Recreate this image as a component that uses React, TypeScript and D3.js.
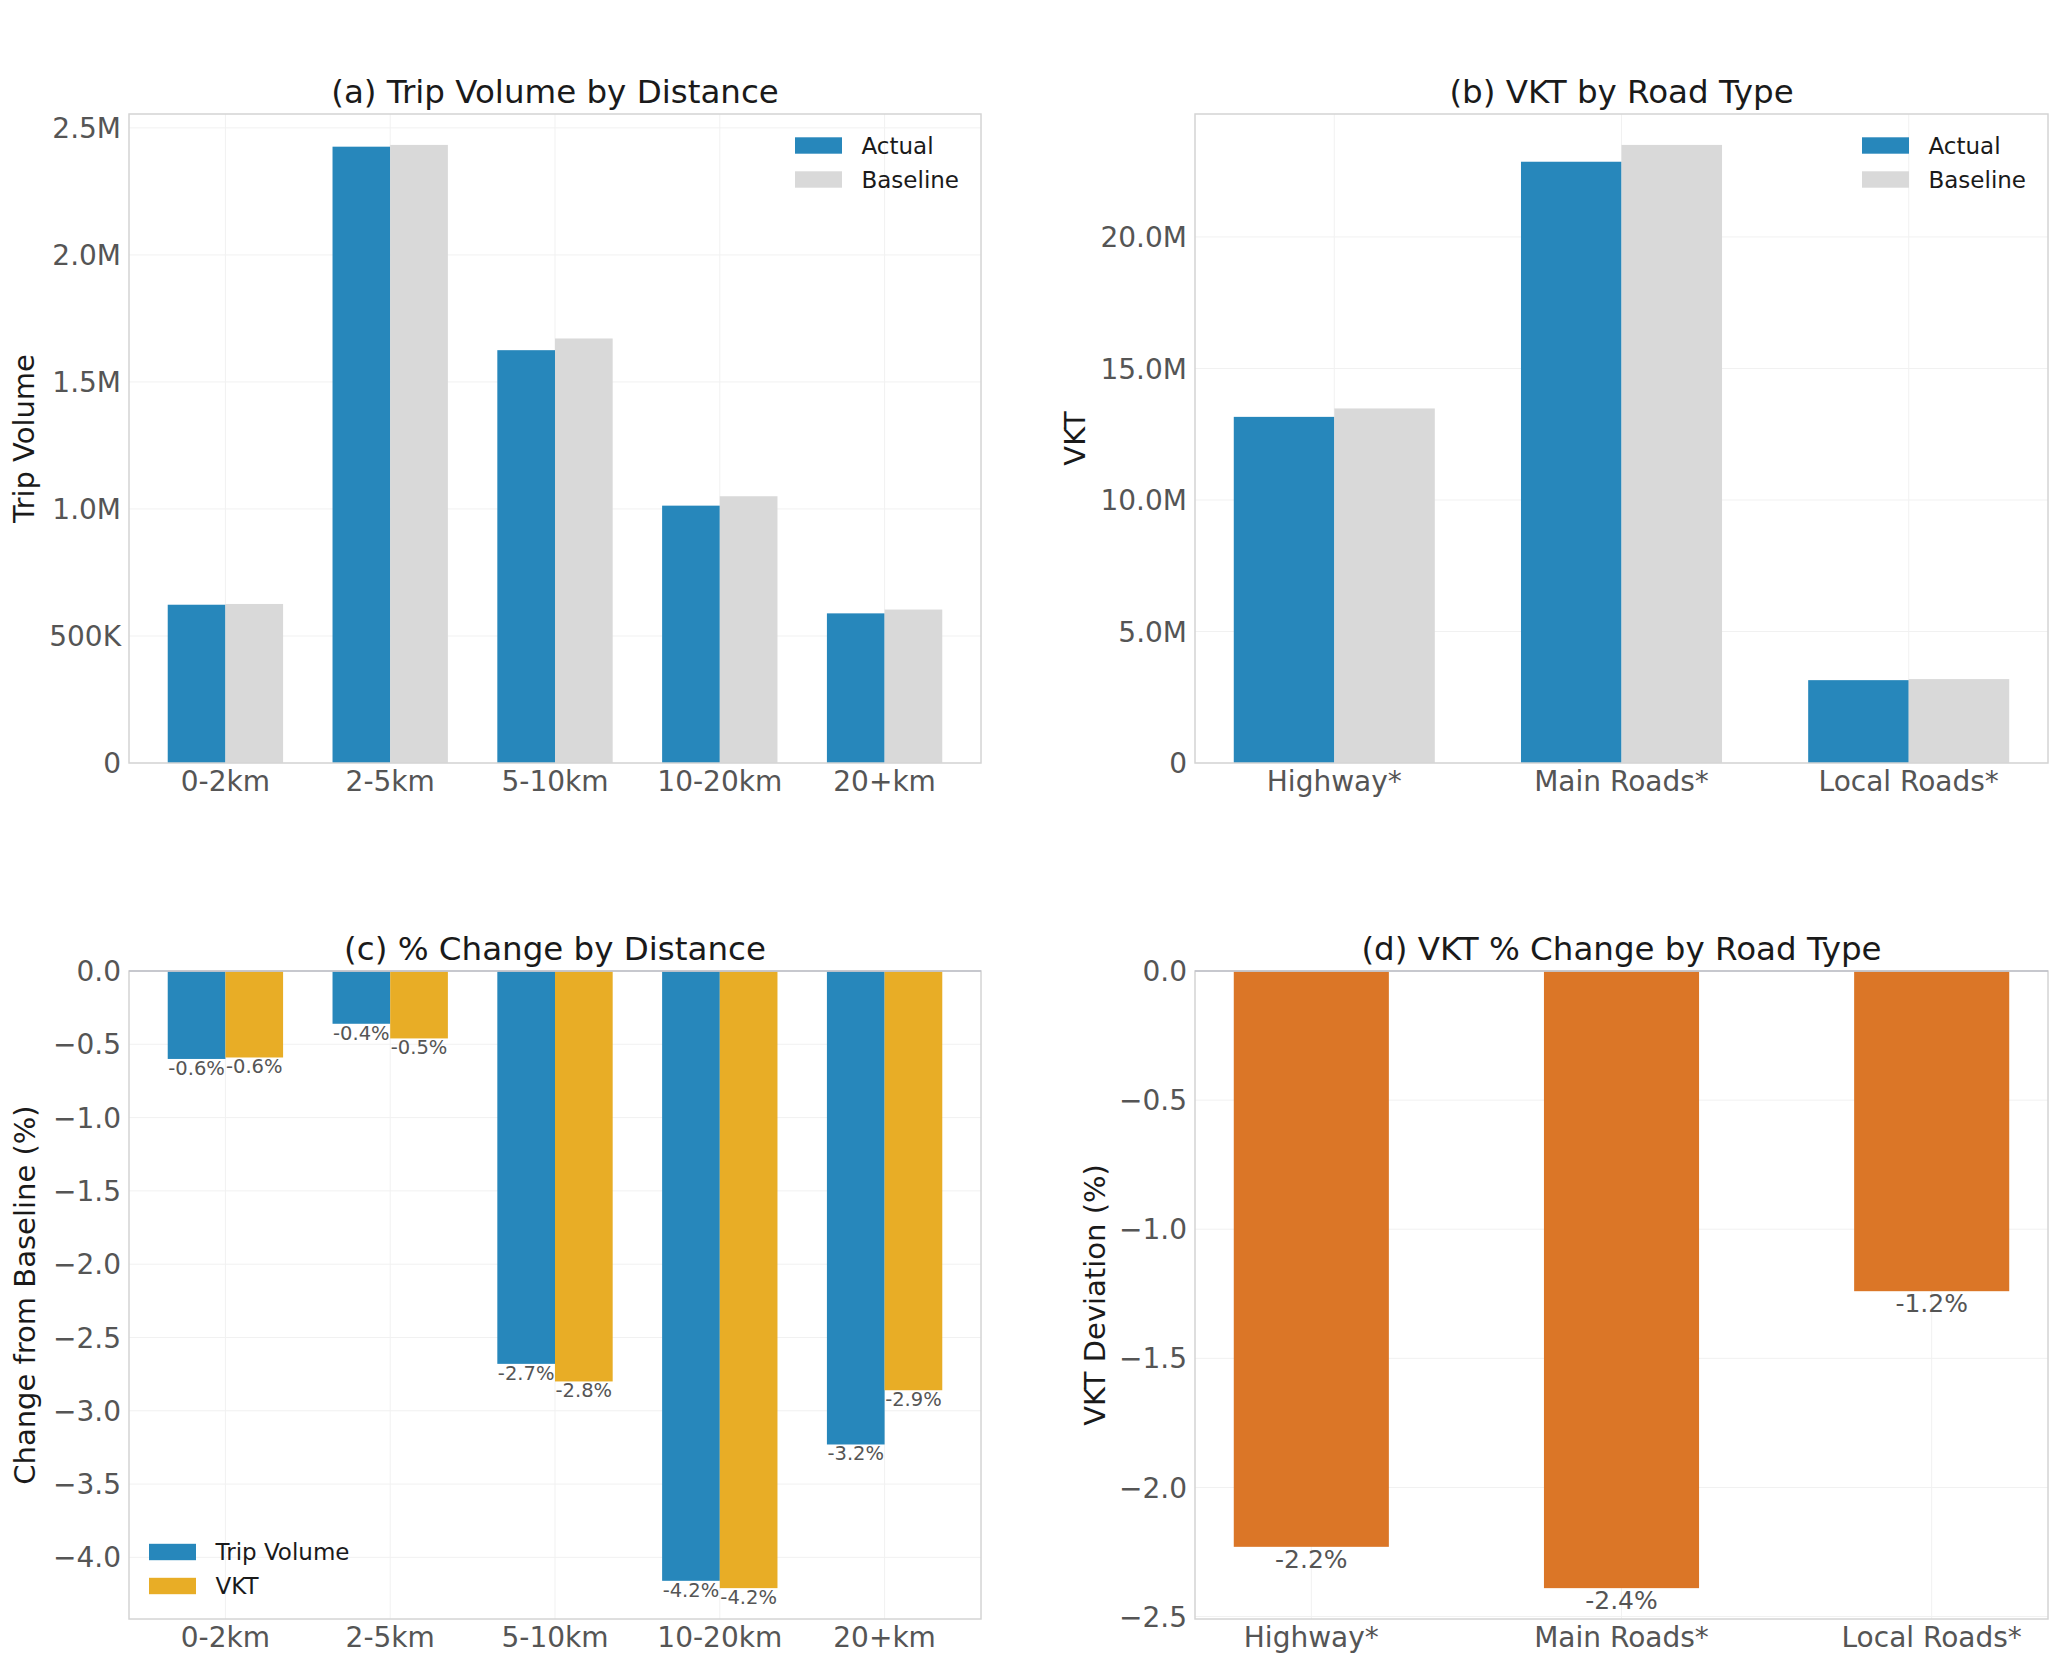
import React, { useEffect } from "react";
import * as d3 from "d3";

const distanceBins = ["0-2km", "2-5km", "5-10km", "10-20km", "20+km"];
const tripActual = [623000, 2426000, 1625000, 1013000, 589000];
const tripBaseline = [626000, 2433000, 1671000, 1050000, 604000];

const roadTypes = ["Highway*", "Main Roads*", "Local Roads*"];
const vktActual = [13.16e6, 22.86e6, 3.15e6];
const vktBaseline = [13.48e6, 23.5e6, 3.19e6];

const tripPctChange = [-0.6, -0.36, -2.68, -4.16, -3.23];
const vktPctChange = [-0.59, -0.46, -2.8, -4.21, -2.86];
const roadVktPctChange = [-2.23, -2.39, -1.24];

const BLUE = "#2787bb";
const GREY = "#d9d9d9";
const GOLD = "#e8ad26";
const ORANGE = "#db7627";

const W = 2061;
const H = 1667;
const FONT = "DejaVu Sans, sans-serif";

type Series = { name: string; values: number[]; color: string };
type Box = { x0: number; x1: number; y0: number; y1: number };

interface PanelProps {
  box: Box;
  title: string;
  ylabel: string;
  ylabelX: number;
  categories: string[];
  series: Series[];
  barWidth: number;
  yDomain: [number, number];
  yTicks: number[];
  yFormat: (v: number) => string;
  legend?: "upper right" | "lower left";
  valueLabels?: { size: number; offset: number };
  zeroLine?: boolean;
}

function BarPanel(p: PanelProps) {
  const { box, series, barWidth, categories } = p;
  const n = categories.length;
  const groupWidth = barWidth * series.length;
  // matplotlib-style 5% margin around the bars
  const pad = (n - 1 + groupWidth) * 0.05;
  const x = d3
    .scaleLinear()
    .domain([-groupWidth / 2 - pad, n - 1 + groupWidth / 2 + pad])
    .range([box.x0, box.x1]);
  const y = d3.scaleLinear().domain(p.yDomain).range([box.y1, box.y0]);
  const bw = x(barWidth) - x(0);
  const unit = x(1) - x(0);
  const cx = (box.x0 + box.x1) / 2;
  const cy = (box.y0 + box.y1) / 2;
  const barLeft = (i: number, si: number) => x(i) - (groupWidth / 2) * unit + si * bw;

  const legendRows =
    p.legend === "upper right"
      ? series.map((s, i) => ({ s, px: box.x1 - 186, ry: box.y0 + 31.5 + i * 34 }))
      : p.legend === "lower left"
      ? series.map((s, i) => ({ s, px: box.x0 + 20, ry: box.y1 - 67 + i * 34 }))
      : [];

  return (
    <g>
      {/* grid */}
      {p.yTicks.map((t) => (
        <line key={"gy" + t} x1={box.x0} x2={box.x1} y1={y(t)} y2={y(t)} stroke="#f1f1f1" strokeWidth={1} />
      ))}
      {categories.map((c, i) => (
        <line key={"gx" + c} x1={x(i)} x2={x(i)} y1={box.y0} y2={box.y1} stroke="#f1f1f1" strokeWidth={1} />
      ))}

      {/* bars */}
      {series.map((s, si) =>
        s.values.map((v, i) => (
          <rect
            key={s.name + i}
            x={barLeft(i, si)}
            y={Math.min(y(v), y(0))}
            width={bw}
            height={Math.abs(y(v) - y(0))}
            fill={s.color}
          />
        ))
      )}

      {/* value labels under negative bars */}
      {p.valueLabels &&
        series.map((s, si) =>
          s.values.map((v, i) => (
            <text
              key={"lbl" + s.name + i}
              x={barLeft(i, si) + bw / 2}
              y={y(v) + p.valueLabels!.offset}
              textAnchor="middle"
              fontSize={p.valueLabels!.size}
              fill="#555"
              fontFamily={FONT}
            >
              {`${v.toFixed(1)}%`}
            </text>
          ))
        )}

      {/* frame */}
      <rect
        x={box.x0}
        y={box.y0}
        width={box.x1 - box.x0}
        height={box.y1 - box.y0}
        fill="none"
        stroke="#d4d4d4"
        strokeWidth={1.5}
      />
      {p.zeroLine && <line x1={box.x0} x2={box.x1} y1={y(0)} y2={y(0)} stroke="#bfc1c8" strokeWidth={1.5} />}

      {/* y ticks */}
      {p.yTicks.map((t) => (
        <text
          key={"ty" + t}
          x={box.x0 - 8}
          y={y(t)}
          dy="0.36em"
          textAnchor="end"
          fontSize={28}
          fill="#555"
          fontFamily={FONT}
        >
          {p.yFormat(t)}
        </text>
      ))}
      {/* x ticks */}
      {categories.map((c, i) => (
        <text
          key={"tx" + c}
          x={x(i)}
          y={box.y1 + 28}
          textAnchor="middle"
          fontSize={28}
          fill="#555"
          fontFamily={FONT}
        >
          {c}
        </text>
      ))}

      <text x={cx} y={box.y0 - 11} textAnchor="middle" fontSize={32.5} fill="#1a1a1a" fontFamily={FONT}>
        {p.title}
      </text>
      <text
        transform={`translate(${p.ylabelX},${cy}) rotate(-90)`}
        textAnchor="middle"
        fontSize={29}
        fill="#1a1a1a"
        fontFamily={FONT}
      >
        {p.ylabel}
      </text>

      {/* legend */}
      {legendRows.map(({ s, px, ry }) => (
        <g key={"lg" + s.name}>
          <rect x={px} y={ry - 8.2} width={47} height={16.4} fill={s.color} />
          <text x={px + 66.5} y={ry} dy="0.36em" fontSize={23} fill="#1a1a1a" fontFamily={FONT}>
            {s.name}
          </text>
        </g>
      ))}
    </g>
  );
}

const fmtVolume = (v: number) => (v === 0 ? "0" : v < 1e6 ? `${d3.format(".0f")(v / 1e3)}K` : `${(v / 1e6).toFixed(1)}M`);
const fmtMillions = (v: number) => (v === 0 ? "0" : `${(v / 1e6).toFixed(1)}M`);
const fmtPct = (v: number) => (v === 0 ? "0.0" : v.toFixed(1).replace("-", "\u2212"));

export default function App() {
  useEffect(() => {
    document.body.style.margin = "0";
  }, []);

  const tripMax = (d3.max(tripBaseline) as number) * 1.05;
  const vktMax = (d3.max(vktBaseline) as number) * 1.05;
  const pctMin = (d3.min([...tripPctChange, ...vktPctChange]) as number) * 1.05;
  const roadMin = (d3.min(roadVktPctChange) as number) * 1.05;

  return (
    <svg width={W} height={H} style={{ display: "block", background: "#fff" }}>
      <rect width={W} height={H} fill="#fff" />
      <BarPanel
        box={{ x0: 129, x1: 981, y0: 114, y1: 763 }}
        title="(a) Trip Volume by Distance"
        ylabel="Trip Volume"
        ylabelX={34}
        categories={distanceBins}
        series={[
          { name: "Actual", values: tripActual, color: BLUE },
          { name: "Baseline", values: tripBaseline, color: GREY },
        ]}
        barWidth={0.35}
        yDomain={[0, tripMax]}
        yTicks={d3.range(0, 2500001, 500000)}
        yFormat={fmtVolume}
        legend="upper right"
      />
      <BarPanel
        box={{ x0: 1195, x1: 2048, y0: 114, y1: 763 }}
        title="(b) VKT by Road Type"
        ylabel="VKT"
        ylabelX={1085}
        categories={roadTypes}
        series={[
          { name: "Actual", values: vktActual, color: BLUE },
          { name: "Baseline", values: vktBaseline, color: GREY },
        ]}
        barWidth={0.35}
        yDomain={[0, vktMax]}
        yTicks={d3.range(0, 20000001, 5000000)}
        yFormat={fmtMillions}
        legend="upper right"
      />
      <BarPanel
        box={{ x0: 129, x1: 981, y0: 971, y1: 1619 }}
        title="(c) % Change by Distance"
        ylabel="Change from Baseline (%)"
        ylabelX={35}
        categories={distanceBins}
        series={[
          { name: "Trip Volume", values: tripPctChange, color: BLUE },
          { name: "VKT", values: vktPctChange, color: GOLD },
        ]}
        barWidth={0.35}
        yDomain={[pctMin, 0]}
        yTicks={d3.range(0, 9).map((i) => -i * 0.5)}
        yFormat={fmtPct}
        legend="lower left"
        valueLabels={{ size: 19.5, offset: 16 }}
        zeroLine
      />
      <BarPanel
        box={{ x0: 1195, x1: 2048, y0: 971, y1: 1619 }}
        title="(d) VKT % Change by Road Type"
        ylabel="VKT Deviation (%)"
        ylabelX={1105}
        categories={roadTypes}
        series={[{ name: "VKT", values: roadVktPctChange, color: ORANGE }]}
        barWidth={0.5}
        yDomain={[roadMin, 0]}
        yTicks={d3.range(0, 6).map((i) => -i * 0.5)}
        yFormat={fmtPct}
        valueLabels={{ size: 25, offset: 21 }}
        zeroLine
      />
    </svg>
  );
}
